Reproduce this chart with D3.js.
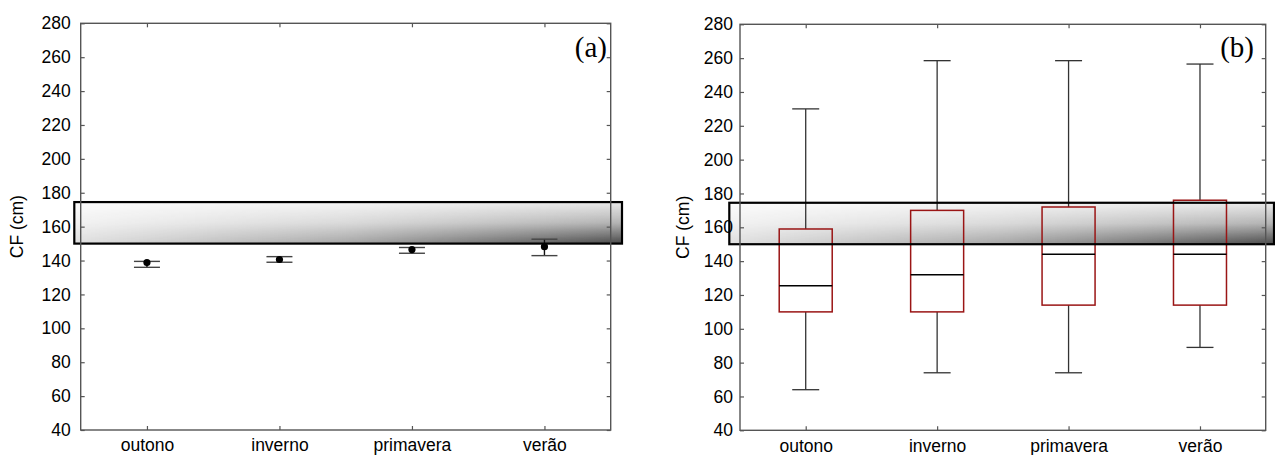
<!DOCTYPE html>
<html>
<head>
<meta charset="utf-8">
<script src="https://cdn.jsdelivr.net/npm/d3@7"></script>
<style>
  html, body { margin: 0; padding: 0; background: #fff; }
  svg { display: block; }
</style>
</head>
<body>
<svg id="chart" width="1275" height="455"></svg>
<script>
// ---- data ----
const categories = ["outono", "inverno", "primavera", "verão"];
const yTicks = [40, 60, 80, 100, 120, 140, 160, 180, 200, 220, 240, 260, 280];
const yDomain = [40, 280];
const bandRange = [150, 174.5];

// panel (a): mean with error bars
const meanA  = [138.8, 140.6, 146.5, 148.2];
const lowerA = [136.0, 139.0, 144.3, 142.9];
const upperA = [139.5, 142.3, 147.7, 152.6];

// panel (b): box plots
const whiskerLow  = [64, 74, 74, 89];
const q1          = [110, 110, 114, 114];
const median      = [125.5, 132, 144, 144];
const q3          = [159, 170, 172, 176];
const whiskerHigh = [230, 258.5, 258.5, 256.5];

const panelLabels = ["(a)", "(b)"];
const yLabel = "CF (cm)";

// ---- layout ----
const svg = d3.select("#chart");
const defs = svg.append("defs");

const gv = defs.append("linearGradient").attr("id", "gv")
  .attr("x1", 0).attr("y1", 0).attr("x2", 0).attr("y2", 1);
[[0, 0.12], [0.5, 0.42], [1, 1]].forEach(([o, a]) =>
  gv.append("stop").attr("offset", o).attr("stop-color", "#2a2a2a").attr("stop-opacity", a));

const gh = defs.append("linearGradient").attr("id", "gh")
  .attr("x1", 0).attr("y1", 0).attr("x2", 1).attr("y2", 0);
[[0, 0.15], [0.5, 0.42], [1, 0.85]].forEach(([o, a]) =>
  gh.append("stop").attr("offset", o).attr("stop-color", "#fff").attr("stop-opacity", a));

const mask = defs.append("mask").attr("id", "mh")
  .attr("maskContentUnits", "objectBoundingBox")
  .style("mask-type", "alpha");
mask.append("rect").attr("width", 1).attr("height", 1).attr("fill", "url(#gh)");

const panels = [
  { x0: 80.7, x1: 610.7, y0: 23.3, y1: 430, bandL: 6.4, bandR: 11.3, pad: 10, labelX: 17, labelRight: 607 },
  { x0: 740,  x1: 1265.7, y0: 24.3, y1: 430.3, bandL: 10.7, bandR: 8.3, pad: 7, labelX: 683, labelRight: 1254 }
];

const FONT = "'Liberation Sans', Arial, sans-serif";

panels.forEach((p, pi) => {
  const g = svg.append("g");
  const x = d3.scalePoint().domain(categories).range([p.x0, p.x1]).padding(0.5);
  const y = d3.scaleLinear().domain(yDomain).range([p.y1, p.y0]);

  // reference band (fill)
  const bx = p.x0 - p.bandL, bw = (p.x1 + p.bandR) - bx;
  const by = y(bandRange[1]), bh = y(bandRange[0]) - y(bandRange[1]);
  g.append("rect").attr("x", bx).attr("y", by).attr("width", bw).attr("height", bh).attr("fill", "#fff");
  g.append("rect").attr("x", bx).attr("y", by).attr("width", bw).attr("height", bh)
    .attr("fill", "url(#gv)").attr("mask", "url(#mh)");

  // axes
  const yl = g.append("g").attr("transform", `translate(${p.x0},0)`)
    .call(d3.axisLeft(y).tickValues(yTicks).tickSize(-4).tickPadding(p.pad));
  const yr = g.append("g").attr("transform", `translate(${p.x1},0)`)
    .call(d3.axisRight(y).tickValues(yTicks).tickSize(-4).tickFormat(""));
  const xb = g.append("g").attr("transform", `translate(0,${p.y1})`)
    .call(d3.axisBottom(x).tickSize(-4).tickPadding(9));
  const xt = g.append("g").attr("transform", `translate(0,${p.y0})`)
    .call(d3.axisTop(x).tickSize(-4).tickFormat(""));
  [yl, yr, xb, xt].forEach(a => {
    a.select(".domain").remove();
    a.selectAll("line").attr("stroke", "#555").attr("stroke-width", 1.2);
    a.selectAll("text").attr("fill", "#000").style("font-family", FONT).style("font-size", "17.5px");
  });

  if (pi === 0) {
    const eg = g.append("g");
    categories.forEach((c, i) => {
      const cx = x(c);
      eg.append("line").attr("x1", cx).attr("x2", cx)
        .attr("y1", y(upperA[i])).attr("y2", y(lowerA[i]))
        .attr("stroke", "#111").attr("stroke-width", 1.4);
      [upperA[i], lowerA[i]].forEach(v =>
        eg.append("line").attr("x1", cx - 13).attr("x2", cx + 13)
          .attr("y1", y(v)).attr("y2", y(v))
          .attr("stroke", "#444").attr("stroke-width", 1.4));
      eg.append("circle").attr("cx", cx).attr("cy", y(meanA[i])).attr("r", 3.6).attr("fill", "#000");
    });
  } else {
    const bg = g.append("g");
    categories.forEach((c, i) => {
      const cx = x(c);
      const hw = 26.5, cw = 13.5;
      bg.append("line").attr("x1", cx).attr("x2", cx)
        .attr("y1", y(whiskerHigh[i])).attr("y2", y(q3[i]))
        .attr("stroke", "#333").attr("stroke-width", 1.3);
      bg.append("line").attr("x1", cx).attr("x2", cx)
        .attr("y1", y(q1[i])).attr("y2", y(whiskerLow[i]))
        .attr("stroke", "#333").attr("stroke-width", 1.3);
      [whiskerHigh[i], whiskerLow[i]].forEach(v =>
        bg.append("line").attr("x1", cx - cw).attr("x2", cx + cw)
          .attr("y1", y(v)).attr("y2", y(v))
          .attr("stroke", "#333").attr("stroke-width", 1.3));
      bg.append("rect").attr("x", cx - hw).attr("y", y(q3[i]))
        .attr("width", 2 * hw).attr("height", y(q1[i]) - y(q3[i]))
        .attr("fill", "none").attr("stroke", "#9a1515").attr("stroke-width", 1.5);
      bg.append("line").attr("x1", cx - hw).attr("x2", cx + hw)
        .attr("y1", y(median[i])).attr("y2", y(median[i]))
        .attr("stroke", "#000").attr("stroke-width", 1.5);
    });
  }

  // band border
  g.append("rect").attr("x", bx).attr("y", by).attr("width", bw).attr("height", bh)
    .attr("fill", "none").attr("stroke", "#000").attr("stroke-width", 2.2);

  // frame
  g.append("rect").attr("x", p.x0).attr("y", p.y0)
    .attr("width", p.x1 - p.x0).attr("height", p.y1 - p.y0)
    .attr("fill", "none").attr("stroke", "#555").attr("stroke-width", 1.4);

  // panel label
  g.append("text").attr("x", p.labelRight).attr("y", 57).attr("text-anchor", "end")
    .style("font-family", "'Liberation Serif', 'Times New Roman', serif").style("font-size", "29px")
    .text(panelLabels[pi]);

  // y label
  g.append("text").attr("transform", `translate(${p.labelX},${(p.y0 + p.y1) / 2}) rotate(-90)`)
    .attr("text-anchor", "middle").attr("dy", "0.35em")
    .style("font-family", FONT).style("font-size", "17.5px")
    .text(yLabel);
});
</script>
</body>
</html>
